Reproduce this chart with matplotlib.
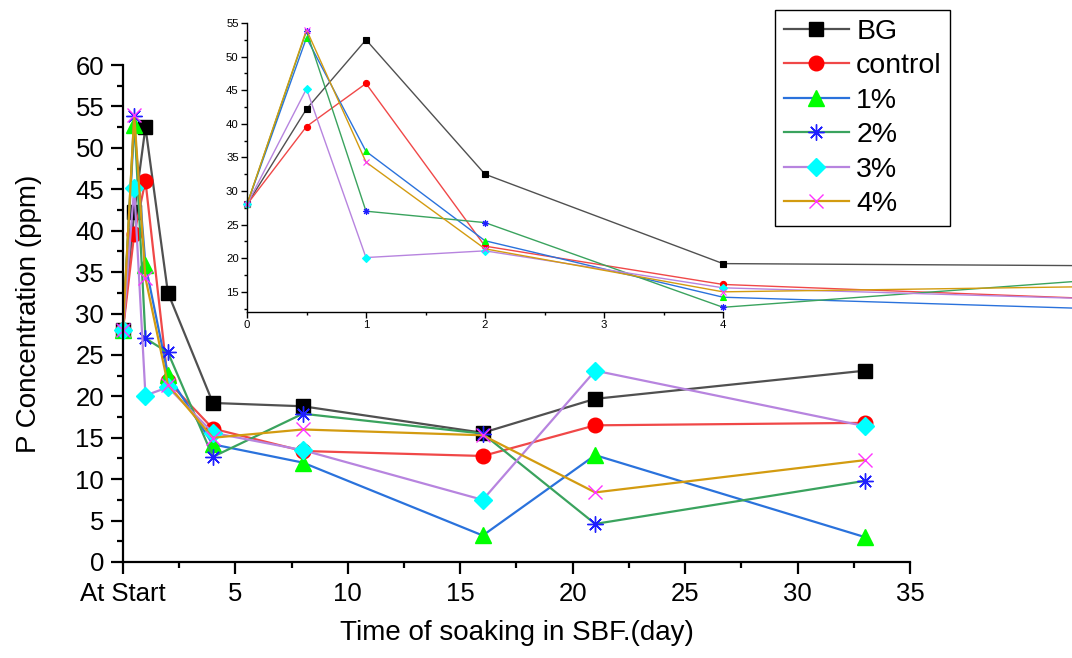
import matplotlib
matplotlib.use("Agg")
import matplotlib.pyplot as plt
from matplotlib.ticker import MultipleLocator

plt.rcParams["font.family"] = ["Liberation Sans", "DejaVu Sans"]

days = [0, 0.5, 1, 2, 4, 8, 16, 21, 33]
labels = ["BG", "control", "1%", "2%", "3%", "4%"]
bg = [28.0, 42.2, 52.5, 32.5, 19.2, 18.8, 15.6, 19.7, 23.1]
control = [28.0, 39.6, 46.0, 21.8, 16.1, 13.4, 12.8, 16.5, 16.8]
p1 = [28.0, 52.8, 35.9, 22.6, 14.2, 12.0, 3.2, 12.9, 3.0]
p2 = [28.0, 53.8, 27.0, 25.3, 12.7, 17.9, 15.5, 4.6, 9.8]
p3 = [28.0, 45.2, 20.1, 21.1, 15.6, 13.5, 7.5, 23.1, 16.4]
p4 = [28.0, 54.0, 34.3, 21.4, 15.0, 16.0, 15.3, 8.4, 12.3]
series = [bg, control, p1, p2, p3, p4]

x_ticks = [0, 5, 10, 15, 20, 25, 30, 35]
x_ticklabels = ["At Start", "5", "10", "15", "20", "25", "30", "35"]

line_colors = ["#505050", "#f04848", "#2a72dc", "#3aa35e", "#b784df", "#d39b10"]
marker_colors = ["#000000", "#ff0000", "#00ff00", "#1f1fff", "#00ffff", "#ff33ff"]
markers = ["s", "o", "^", (8, 2, 0), "D", "x"]
marker_scale = [1.0, 1.05, 1.1, 1.15, 0.95, 1.05]

fig = plt.figure(figsize=(10.72, 6.58), dpi=100)
ax = fig.add_axes([0.1147, 0.1459, 0.7342, 0.7553])

for ys, lab, lc, mc, mk, sc in zip(series, labels, line_colors, marker_colors,
                                   markers, marker_scale):
    ax.plot(days, ys, color=lc, linewidth=1.6, marker=mk, markersize=10 * sc,
            markerfacecolor=mc, markeredgecolor=mc, markeredgewidth=1.0,
            label=lab, clip_on=False)

ax.set_xlim(0, 35)
ax.set_ylim(0, 60)
ax.set_xticks(x_ticks)
ax.set_xticklabels(x_ticklabels)
ax.xaxis.set_minor_locator(MultipleLocator(2.5))
ax.yaxis.set_major_locator(MultipleLocator(5))
ax.yaxis.set_minor_locator(MultipleLocator(2.5))
for side in ["top", "right"]:
    ax.spines[side].set_visible(False)
for side in ["left", "bottom"]:
    ax.spines[side].set_linewidth(1.6)
ax.tick_params(which="major", direction="out", length=8.5, width=1.6,
               labelsize=18.5)
ax.tick_params(axis="y", which="major", pad=5)
ax.tick_params(axis="x", which="major", pad=6)
ax.tick_params(which="minor", direction="out", length=4.5, width=1.6)
ax.set_xlabel("Time of soaking in SBF.(day)", fontsize=20, labelpad=10)
ax.set_ylabel("P Concentration (ppm)", fontsize=20, labelpad=24)

leg = ax.legend(loc="upper left", bbox_to_anchor=(775 / 1072, 1 - 10 / 658),
                bbox_transform=fig.transFigure, fontsize=20.5, frameon=True,
                fancybox=False, edgecolor="black", framealpha=1,
                handlelength=2.3, labelspacing=0.3, borderpad=0.3,
                handletextpad=0.25, borderaxespad=0)
leg.get_frame().set_linewidth(1.0)

# inset zoom on the first days
ins = fig.add_axes([247 / 1072, 1 - 312 / 658, (723 - 247) / 1072, (312 - 23) / 658])
ins.patch.set_alpha(0)
for ys, lc, mc, mk, sc in zip(series, line_colors, marker_colors, markers,
                              marker_scale):
    ins.plot(days, ys, color=lc, linewidth=1.0, marker=mk, markersize=4.2 * sc,
             markerfacecolor=mc, markeredgecolor=mc, markeredgewidth=0.8,
             clip_on=False)
ins.set_xlim(0, 4)
ins.set_ylim(12, 55)
ins.xaxis.set_major_locator(MultipleLocator(1))
ins.xaxis.set_minor_locator(MultipleLocator(0.5))
ins.set_yticks([15, 20, 25, 30, 35, 40, 45, 50, 55])
ins.yaxis.set_minor_locator(MultipleLocator(2.5))
for side in ["top", "right"]:
    ins.spines[side].set_visible(False)
for side in ["left", "bottom"]:
    ins.spines[side].set_linewidth(1.0)
ins.tick_params(which="major", direction="out", length=4, width=1.0,
                labelsize=8.2, pad=2)
ins.tick_params(which="minor", direction="out", length=2.5, width=1.0)

fig.savefig("out.png", dpi=100)
